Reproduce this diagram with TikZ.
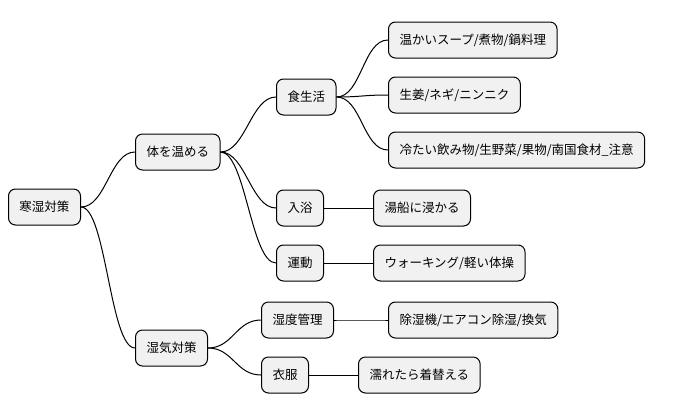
\documentclass[tikz,border=0pt]{standalone}
\usepackage{fontspec}
\setmainfont{Noto Sans CJK JP}
\begin{document}
\begin{tikzpicture}[x=1pt,y=-1pt,
  box/.style={draw=black,line width=1pt,fill={rgb,255:red,241;green,241;blue,241},rounded corners=7pt,anchor=west,minimum height=36pt,inner xsep=11pt,font=\fontsize{12.5pt}{14pt}\selectfont},
  con/.style={draw=black,line width=1pt}]
\useasboundingbox (0,0) rectangle (678,415);
\node[box] (r) at (8,207) {寒湿対策};
\node[box] (a) at (135,152) {体を温める};
\node[box] (b) at (135,348) {湿気対策};
\node[box] (a1) at (276,97) {食生活};
\node[box] (a2) at (276,208) {入浴};
\node[box] (a3) at (276,263) {運動};
\node[box] (b1) at (261,320) {湿度管理};
\node[box] (b2) at (261,375) {衣服};
\node[box] (c1) at (388,40) {温かいスープ/煮物/鍋料理};
\node[box] (c2) at (388,95) {生姜/ネギ/ニンニク};
\node[box] (c3) at (388,150) {冷たい飲み物/生野菜/果物/南国食材\_注意};
\node[box] (d1) at (373,208) {湯船に浸かる};
\node[box] (e1) at (373,263) {ウォーキング/軽い体操};
\node[box] (f1) at (388,320) {除湿機/エアコン除湿/換気};
\node[box] (g1) at (358,375) {濡れたら着替える};
\foreach \p/\c in {r/a,r/b,a/a1,a/a2,a/a3,b/b1,b/b2,a1/c1,a1/c2,a1/c3,a2/d1,a3/e1,b1/f1,b2/g1}
  \draw[con] (\p.east) .. controls ([xshift=25]\p.east) and ([xshift=-25]\c.west) .. (\c.west);
\end{tikzpicture}
\end{document}
